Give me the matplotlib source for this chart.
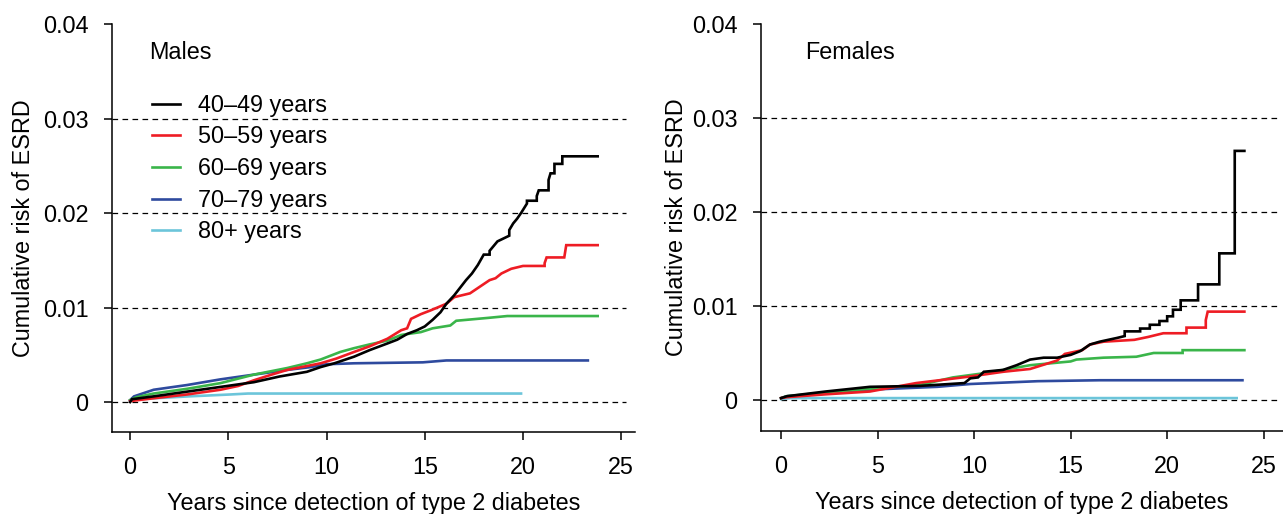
import matplotlib.pyplot as plt

plt.rcParams['font.family'] = ['Liberation Sans', 'DejaVu Sans']
plt.rcParams['font.size'] = 16.8

labels = ['40\u201349 years', '50\u201359 years', '60\u201369 years', '70\u201379 years', '80+ years']
colors = ['#000000', '#ee1c24', '#3ab54a', '#2e4a9e', '#6cc5da']

# Males: (years, cumulative risk); repeated x = visible step
m_40_x = [0, 0.1, 1.2, 2.9, 4.6, 6.3, 7.6, 9.0, 9.7, 10.4, 11.4, 12.2, 13.1, 13.6, 14.1, 14.6, 15.0, 15.4, 15.8, 16.1, 16.5, 17.1, 17.4, 17.7, 18.0,
          18.3, 18.3, 18.7, 19.1, 19.3, 19.3, 19.5, 19.7, 19.9, 20.2, 20.2, 20.7, 20.7, 20.8, 21.3, 21.3, 21.4, 21.6, 21.6, 22.0, 22.0, 23.8]
m_40_y = [0, 0.0003, 0.0006, 0.0011, 0.0016, 0.0021, 0.0027, 0.0032, 0.0037, 0.0041, 0.0048, 0.0055, 0.0062, 0.0066, 0.0072, 0.0076, 0.0080, 0.0087, 0.0095, 0.0104, 0.0113, 0.0129, 0.0136, 0.0145, 0.0156,
          0.0156, 0.0160, 0.0170, 0.0174, 0.0176, 0.0182, 0.0189, 0.0194, 0.0200, 0.0210, 0.0213, 0.0213, 0.0218, 0.0224, 0.0224, 0.0235, 0.0242, 0.0242, 0.0252, 0.0252, 0.0260, 0.0260]
m_50_x = [0, 1.2, 2.9, 4.6, 5.5, 6.3, 7.2, 8.0, 9.7, 10.5, 11.4, 12.2, 13.1, 13.8, 14.1, 14.3, 14.8, 15.3, 16.1, 16.5, 17.3, 17.8, 18.3, 18.6, 18.9, 19.4, 20.0,
          21.1, 21.1, 21.2, 22.1, 22.2, 23.8]
m_50_y = [0.0001, 0.0004, 0.0008, 0.0013, 0.0017, 0.0023, 0.0029, 0.0034, 0.0041, 0.0046, 0.0053, 0.0059, 0.0067, 0.0076, 0.0078, 0.0088, 0.0093, 0.0097, 0.0104, 0.0111, 0.0115, 0.0122, 0.0129, 0.0131, 0.0136, 0.0141, 0.0144,
          0.0144, 0.0147, 0.0153, 0.0153, 0.0166, 0.0166]
m_60_x = [0, 0.3, 1.2, 2.9, 4.6, 6.3, 8.0, 9.0, 9.7, 10.7, 11.4, 12.2, 13.1, 13.8, 14.8, 15.4, 16.3, 16.6, 18.2, 19.2, 23.8]
m_60_y = [0.0002, 0.0005, 0.0009, 0.0014, 0.0020, 0.0029, 0.0036, 0.0041, 0.0045, 0.0053, 0.0057, 0.0061, 0.0065, 0.0071, 0.0074, 0.0078, 0.0081, 0.0086, 0.0089, 0.0091, 0.0091]
m_70_x = [0, 0.2, 1.2, 2.9, 4.6, 6.3, 8.0, 9.2, 10.0, 11.4, 14.9, 16.1, 23.3]
m_70_y = [0.0002, 0.0006, 0.0013, 0.0018, 0.0024, 0.0029, 0.0034, 0.0037, 0.0040, 0.0041, 0.0042, 0.0044, 0.0044]
m_80_x = [0, 0.2, 1.2, 3.0, 5.1, 6.0, 19.9]
m_80_y = [0.0001, 0.0003, 0.0004, 0.0006, 0.0008, 0.0009, 0.0009]

# Females
f_40_x = [0, 0.3, 2.3, 4.6, 7.2, 9.5, 9.8, 10.2, 10.5, 11.5, 12.2, 12.9, 13.6, 14.3, 15.0, 15.5, 16.0, 16.5, 17.4, 17.8, 17.8,
          18.6, 18.6, 19.1, 19.1, 19.6, 19.6, 20.0, 20.0, 20.3, 20.3, 20.7, 20.7, 21.6, 21.6, 22.7, 22.7, 23.5, 23.5, 24.0]
f_40_y = [0.0002, 0.0004, 0.0009, 0.0014, 0.0015, 0.0018, 0.0023, 0.0024, 0.0030, 0.0032, 0.0037, 0.0043, 0.0045, 0.0045, 0.0048, 0.0052, 0.0059, 0.0062, 0.0066, 0.0068, 0.0073,
          0.0073, 0.0076, 0.0076, 0.0080, 0.0080, 0.0084, 0.0084, 0.0089, 0.0089, 0.0096, 0.0096, 0.0106, 0.0106, 0.0123, 0.0123, 0.0156, 0.0156, 0.0265, 0.0265]
f_50_x = [0, 0.3, 2.3, 4.6, 7.0, 9.8, 11.5, 12.9, 14.3, 14.7, 15.6, 16.0, 16.7, 18.3, 19.0, 19.8, 21.0, 21.0, 22.0, 22.0, 22.1, 24.0]
f_50_y = [0.0002, 0.0003, 0.0006, 0.0009, 0.0018, 0.0025, 0.0030, 0.0033, 0.0042, 0.0049, 0.0053, 0.0059, 0.0062, 0.0064, 0.0067, 0.0071, 0.0071, 0.0077, 0.0077, 0.0085, 0.0094, 0.0094]
f_60_x = [0, 0.3, 2.3, 4.6, 7.2, 8.9, 10.7, 12.9, 15.0, 15.3, 16.7, 18.4, 19.3, 20.8, 20.8, 24.0]
f_60_y = [0.0002, 0.0004, 0.0008, 0.0012, 0.0016, 0.0024, 0.0029, 0.0037, 0.0041, 0.0043, 0.0045, 0.0046, 0.0050, 0.0050, 0.0053, 0.0053]
f_70_x = [0, 0.3, 1.2, 4.6, 8.1, 9.8, 13.3, 16.5, 23.9]
f_70_y = [0.0002, 0.0004, 0.0005, 0.0011, 0.0014, 0.0017, 0.0020, 0.0021, 0.0021]
f_80_x = [0, 0.5, 23.6]
f_80_y = [0.0001, 0.0002, 0.0002]

males = [(m_40_x, m_40_y), (m_50_x, m_50_y), (m_60_x, m_60_y), (m_70_x, m_70_y), (m_80_x, m_80_y)]
females = [(f_40_x, f_40_y), (f_50_x, f_50_y), (f_60_x, f_60_y), (f_70_x, f_70_y), (f_80_x, f_80_y)]

yticks = [0, 0.01, 0.02, 0.03, 0.04]
ytick_labels = ['0', '0.01', '0.02', '0.03', '0.04']
xticks = [0, 5, 10, 15, 20, 25]

fig = plt.figure(figsize=(12.83, 5.14), dpi=100)
W, H = 1283, 514


def make_axes(left, right, top, bottom, xlim, ylim, grid_end, series, title, title_x, ylab_x, legend):
    ax = fig.add_axes([left / W, 1 - bottom / H, (right - left) / W, (bottom - top) / H])
    ax.set_xlim(*xlim)
    ax.set_ylim(*ylim)
    # dashed reference lines
    for y in yticks[:-1]:
        ax.plot([xlim[0], grid_end], [y, y], color='black', lw=0.9, dashes=(4.5, 3.5), zorder=1)
    for (x, y), c, lab in zip(series[::-1], colors[::-1], labels[::-1]):
        ax.plot(x, y, color=c, lw=1.9, label=lab, zorder=2, solid_joinstyle='miter')
    ax.spines['top'].set_visible(False)
    ax.spines['right'].set_visible(False)
    ax.spines['left'].set_linewidth(1.1)
    ax.spines['bottom'].set_linewidth(1.1)
    ax.set_yticks(yticks)
    ax.set_yticklabels(ytick_labels)
    ax.set_xticks(xticks)
    ax.tick_params(length=6, width=1.1, labelsize=16.8)
    ax.tick_params(axis='y', pad=11)
    ax.tick_params(axis='x', pad=11)
    ax.set_ylabel('Cumulative risk of ESRD')
    ax.set_xlabel('Years since detection of type 2 diabetes')
    ax.yaxis.label.set_va('center')
    ax.xaxis.label.set_va('center')
    ax.yaxis.set_label_coords(ylab_x, 0.5)
    ax.xaxis.set_label_coords(0.5, -0.175)
    ax.text(title_x, 0.931, title, transform=ax.transAxes, fontsize=16.8, va='center', ha='left')
    if legend:
        h, l = ax.get_legend_handles_labels()
        ax.legend(h[::-1], l[::-1], loc='upper left', bbox_to_anchor=(0.077, 0.829),
                  frameon=False, borderpad=0, borderaxespad=0, handlelength=1.2,
                  handletextpad=0.75, labelspacing=0.37, fontsize=16.8)
    return ax


make_axes(112, 635, 24, 432, (-0.92, 25.7), (-0.00317, 0.04), 25.25, males, 'Males', 0.071, -0.170, True)
make_axes(761, 1283, 24, 431, (-1.04, 26.0), (-0.0033, 0.04), 25.7, females, 'Females', 0.085, -0.162, False)

fig.savefig('out.png', dpi=100)
